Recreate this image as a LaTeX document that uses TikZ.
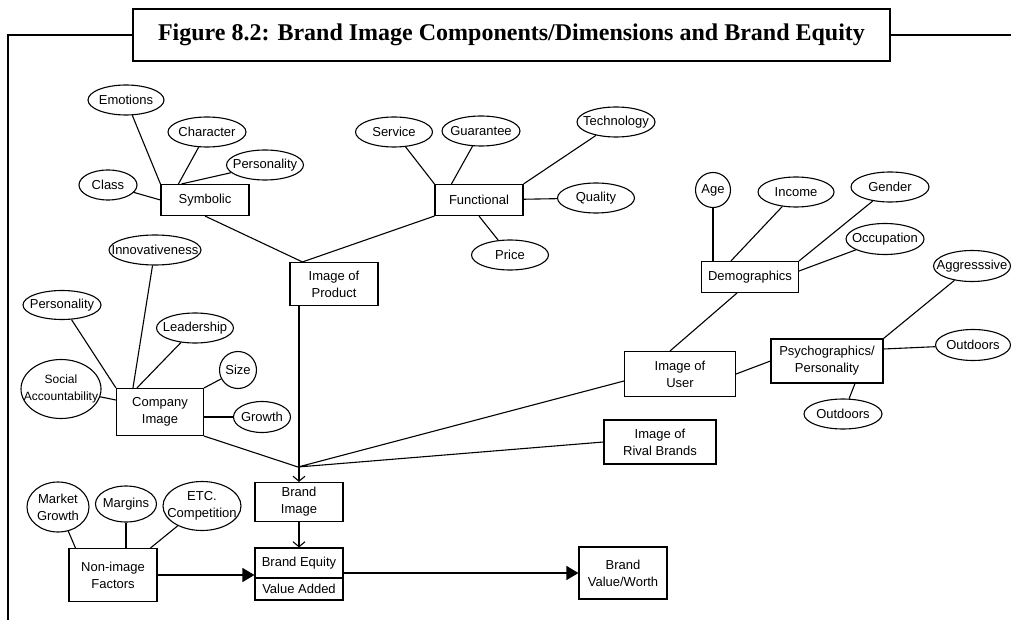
\documentclass[tikz,border=0pt]{standalone}
\usepackage{fontspec}
\setmainfont{Liberation Sans}
\newfontfamily\titlefont{Liberation Serif}
\usetikzlibrary{shapes.geometric, arrows.meta, positioning}

\begin{document}
\begin{tikzpicture}[
        x=1pt, y=-1pt,
        font=\fontsize{13}{17}\selectfont,
        box/.style={rectangle, draw, line width=1.1pt, minimum width=88pt, minimum height=31pt, align=center, inner sep=2pt},
        oval/.style={ellipse, draw, line width=1.1pt, minimum width=78pt, minimum height=30pt, inner xsep=-12pt, inner ysep=0pt, align=center},
        ring/.style={circle, draw, line width=1.1pt, inner sep=0pt},
        link/.style={line width=1.1pt},
        openarrow/.style={-{Straight Barb[length=5pt, width=12pt]}, line width=1.1pt},
        fillarrow/.style={-{Triangle[length=12pt, width=14pt]}, line width=1.1pt}
    ]
        \useasboundingbox (0,0) rectangle (1011,620);
        \node[draw, line width=2pt, minimum width=757pt, minimum height=52pt, font=\titlefont\bfseries\fontsize{24}{28}\selectfont] (title) at (511.5,35) {Figure 8.2: Brand Image Components/Dimensions and Brand Equity};
        \draw[line width=2pt] (8,620) -- (8,35) -- (title.west);
        \draw[line width=2pt] (title.east) -- (1011,35);

        \node[box] (sym) at (205,200) {Symbolic};
        \node[oval, minimum width=76pt] (emo) at (126,100) {Emotions};
        \node[oval] (char) at (207,132) {Character};
        \node[oval, minimum width=77pt] (pers1) at (265,165) {Personality};
        \node[oval, minimum width=58pt] (class) at (108,185) {Class};
        \node[box] (func) at (479,200) {Functional};
        \node[oval, minimum width=77pt] (serv) at (394,132) {Service};
        \node[oval] (guar) at (481,131) {Guarantee};
        \node[oval] (tech) at (616,122) {Technology};
        \node[oval, minimum width=77pt] (qual) at (596,198) {Quality};
        \node[oval, minimum width=77pt] (price) at (510,255) {Price};
        \node[box, minimum height=43pt] (prod) at (334,284) {Image of\\Product};

        \node[box, minimum width=87pt, minimum height=47pt] (comp) at (160,412) {Company\\Image};
        \node[oval, minimum width=92pt] (innov) at (155,250) {Innovativeness};
        \node[oval, minimum height=29pt] (pers2) at (62,305) {Personality};
        \node[oval, minimum width=77pt] (lead) at (195,328) {Leadership};
        \node[ring, minimum size=37pt] (size) at (238,370) {Size};
        \node[oval, minimum width=80pt, minimum height=59pt, font=\fontsize{12}{17}\selectfont] (social) at (61,389) {Social\\Accountability};
        \node[oval, minimum width=57pt, minimum height=31pt] (growth) at (262,417) {Growth};

        \coordinate (hub) at (298,467);
        \node[box, minimum height=39pt] (brand) at (299,502) {Brand\\Image};
        \node[box, minimum width=111pt, minimum height=45pt] (user) at (680,374) {Image of\\User};
        \node[box, minimum width=112pt, minimum height=44pt] (rival) at (660,442) {Image of\\Rival Brands};

        \node[box, minimum width=97pt] (demo) at (750,277) {Demographics};
        \node[ring, minimum size=35pt] (age) at (713,190) {Age};
        \node[oval, minimum width=76pt] (inc) at (796,192) {Income};
        \node[oval] (gend) at (890,187) {Gender};
        \node[oval, minimum height=31pt] (occ) at (885,239) {Occupation};

        \node[box, minimum width=112pt, minimum height=44pt] (psych) at (827,361) {Psychographics/\\Personality};
        \node[oval, minimum width=77pt, minimum height=31pt] (aggr) at (972,266) {Aggresssive};
        \node[oval, minimum width=75pt, minimum height=31pt] (outd1) at (973,345) {Outdoors};
        \node[oval] (outd2) at (843,414) {Outdoors};

        \node[box, minimum height=53pt] (nonimg) at (113,575) {Non-image\\Factors};
        \node[oval, minimum width=62pt, minimum height=50pt] (mkt) at (58,507) {Market\\Growth};
        \node[oval, minimum width=61pt, minimum height=36pt] (marg) at (126,504) {Margins};
        \node[oval, minimum width=78pt, minimum height=49pt] (etc) at (202,506) {ETC.\\Competition};
        \node[box, minimum height=30pt] (equity) at (299,563) {Brand Equity};
        \node[box, minimum height=22pt, below=-1.1pt of equity] (added) {Value Added};
        \node[box, minimum height=52pt] (value) at (623,573) {Brand\\Value/Worth};

        \draw[link] (emo) -- (sym.north west);
        \draw[link] (char) -- ([xshift=18pt]sym.north west);
        \draw[link] (pers1) -- ([xshift=21pt]sym.north west);
        \draw[link] (class) -- (sym.west);
        \draw[link] (sym.south) -- ([xshift=13pt]prod.north west) -- (func.south west);
        \draw[link] (serv) -- (func.north west);
        \draw[link] (guar) -- ([xshift=17pt]func.north west);
        \draw[link] (tech) -- (func.north east);
        \draw[link] (func) -- (qual);
        \draw[link] (func.south) -- (price);

        \draw[link] (innov) -- ([xshift=17pt]comp.north west);
        \draw[link] (pers2) -- (comp.north west);
        \draw[link] (lead) -- ([xshift=21pt]comp.north west);
        \draw[link] (social) -- ([yshift=12pt]comp.west);
        \draw[link] (size) -- (comp.north east);
        \draw[link] (growth.west -| comp.east) -- (growth);
        \draw[link] (comp.south east) -- (hub);

        \draw[openarrow] (prod.south -| brand.north) -- (brand.north);
        \draw[link] ([yshift=-7pt]user.west) -- (hub) -- (rival.west);
        \draw[openarrow] (brand) -- (equity);
        \draw[link] ([xshift=-10pt]user.north) -- ([xshift=-13pt]demo.south);
        \draw[link] (user.east) -- (psych.west);

        \draw[link] (age) -- (age |- demo.north);
        \draw[link] (inc) -- ([xshift=30pt]demo.north west);
        \draw[link] (gend) -- (demo.north east);
        \draw[link] (occ) -- ([yshift=6pt]demo.east);

        \draw[link] (aggr) -- (psych.north east);
        \draw[link] ([yshift=12pt]psych.east) -- (outd1);
        \draw[link] ([xshift=28pt]psych.south) -- (outd2);

        \draw[link] (mkt) -- ([xshift=7pt]nonimg.north west);
        \draw[link] (marg) -- (marg |- nonimg.north);
        \draw[link] (etc) -- ([xshift=-7pt]nonimg.north east);
        \draw[fillarrow] (nonimg.east) -- (nonimg.east -| equity.west);
        \draw[fillarrow] (value.west -| equity.east) -- (value.west);
    \end{tikzpicture}
\end{document}
